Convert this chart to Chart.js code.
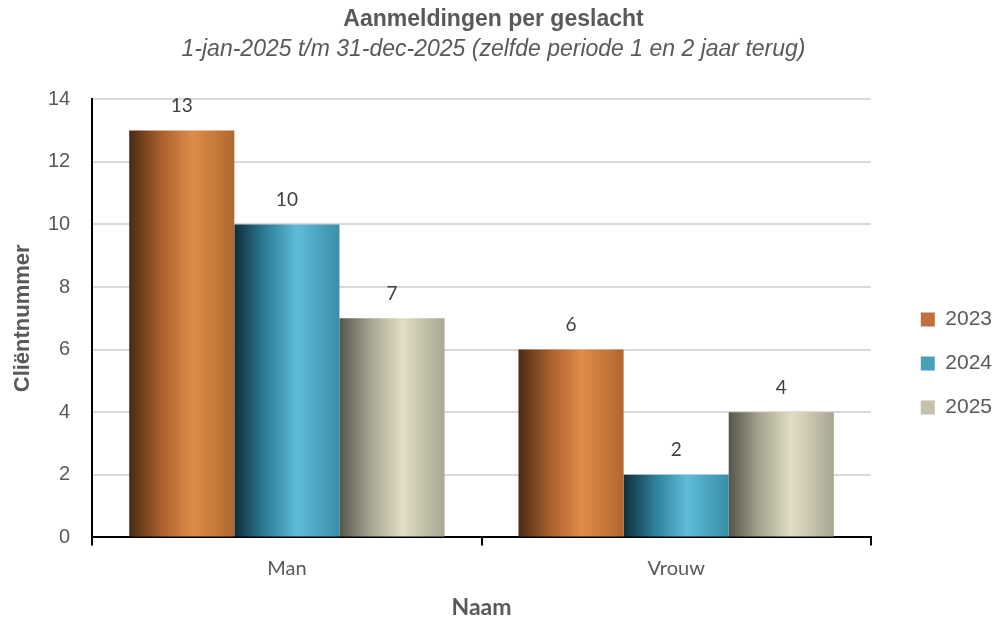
<!DOCTYPE html>
<html>
<head>
<meta charset="utf-8">
<script src="https://cdn.jsdelivr.net/npm/chart.js@4.4.0/dist/chart.umd.min.js"></script>
<style>
  html, body { margin: 0; padding: 0; background: #fff; }
  #wrap { width: 992px; height: 619px; }
</style>
</head>
<body>
<div id="wrap"><canvas id="chart"></canvas></div>
<script>
  const categories = ['Man', 'Vrouw'];
  const years = ['2023', '2024', '2025'];
  const values2023 = [13, 6];
  const values2024 = [10, 2];
  const values2025 = [7, 4];
  const yTicks = [0, 2, 4, 6, 8, 10, 12, 14];

  // donker links, licht midden, rechts iets donkerder
  const shades = [
    { solid: '#c0703a', stops: ['#4a2a12', '#a8602c', '#de8c4a', '#b0682e'] },
    { solid: '#4aa0b8', stops: ['#0e2e3a', '#2f7f98', '#5ebcd8', '#3a8ea8'] },
    { solid: '#c4c2a8', stops: ['#55554a', '#a8a690', '#e2dec6', '#a8a692'] }
  ];

  const grey = '#595959';
  const arial = 'Liberation Sans, Arial, sans-serif';
  const lato = 'Lato, "Open Sans", sans-serif';

  const barGradient = {
    id: 'barGradient',
    beforeDatasetsDraw(chart) {
      const ctx = chart.ctx;
      chart.data.datasets.forEach((ds, di) => {
        const meta = chart.getDatasetMeta(di);
        const s = shades[di].stops;
        meta.data.forEach((bar) => {
          const left = bar.x - bar.width / 2;
          const g = ctx.createLinearGradient(left, 0, left + bar.width, 0);
          g.addColorStop(0, s[0]);
          g.addColorStop(0.3, s[1]);
          g.addColorStop(0.6, s[2]);
          g.addColorStop(1, s[3]);
          bar.options = Object.assign({}, bar.options, { backgroundColor: g });
        });
      });
    }
  };

  const valueLabels = {
    id: 'valueLabels',
    afterDatasetsDraw(chart) {
      const ctx = chart.ctx;
      ctx.save();
      ctx.font = '19px ' + lato;
      ctx.fillStyle = '#404040';
      ctx.textAlign = 'center';
      ctx.textBaseline = 'bottom';
      chart.data.datasets.forEach((ds, di) => {
        chart.getDatasetMeta(di).data.forEach((bar, i) => {
          ctx.fillText(ds.data[i], bar.x, bar.y - 15);
        });
      });
      ctx.restore();
    }
  };

  // legenda wat verder naar rechts, los van het plotvlak
  const legendShift = {
    id: 'legendShift',
    afterLayout(chart) {
      chart.legend.left += 27;
      chart.legend.right += 27;
    }
  };

  const seriesValues = [values2023, values2024, values2025];

  new Chart(document.getElementById('chart'), {
    type: 'bar',
    data: {
      labels: categories,
      datasets: years.map((y, i) => ({
        label: y,
        data: seriesValues[i],
        backgroundColor: (c) => shades[c.datasetIndex].solid,
        borderWidth: 0,
        categoryPercentage: 0.81,
        barPercentage: 1
      }))
    },
    options: {
      responsive: true,
      maintainAspectRatio: false,
      animation: false,
      layout: { padding: { left: 12, right: 17, top: 4, bottom: 0 } },
      plugins: {
        title: {
          display: true,
          text: 'Aanmeldingen per geslacht',
          color: grey,
          font: { family: arial, size: 23, weight: 'bold' },
          padding: { top: 2, bottom: 2 }
        },
        subtitle: {
          display: true,
          text: '1-jan-2025 t/m 31-dec-2025 (zelfde periode 1 en 2 jaar terug)',
          color: grey,
          font: { family: arial, size: 23, style: 'italic' },
          padding: { top: 0, bottom: 36 }
        },
        legend: {
          position: 'right',
          title: { display: true, text: ' ', font: { size: 10 }, padding: { top: 0, bottom: 92 } },
          labels: {
            color: grey,
            boxWidth: 14,
            boxHeight: 14,
            padding: 23,
            font: { family: arial, size: 21 }
          }
        },
        tooltip: { enabled: false }
      },
      scales: {
        x: {
          grid: { drawOnChartArea: false, tickLength: 8, color: '#000', lineWidth: 2 },
          border: { color: '#000', width: 2 },
          ticks: { color: grey, padding: 11, font: { family: lato, size: 20 } },
          title: {
            display: true,
            text: 'Naam',
            color: grey,
            font: { family: lato, size: 23, weight: 'bold' },
            padding: { top: 2, bottom: -2 }
          }
        },
        y: {
          min: 0,
          max: 14,
          afterBuildTicks(axis) { axis.ticks = yTicks.map((v) => ({ value: v })); },
          grid: { color: '#d9d9d9', lineWidth: 2, drawTicks: false },
          border: { color: '#000', width: 2 },
          ticks: { color: grey, padding: 22, font: { family: arial, size: 20 } },
          title: {
            display: true,
            text: 'Cliëntnummer',
            color: grey,
            font: { family: arial, size: 22, weight: 'bold', lineHeight: 1 },
            padding: { top: 0, bottom: -8 }
          }
        }
      }
    },
    plugins: [barGradient, valueLabels, legendShift]
  });
</script>
</body>
</html>
